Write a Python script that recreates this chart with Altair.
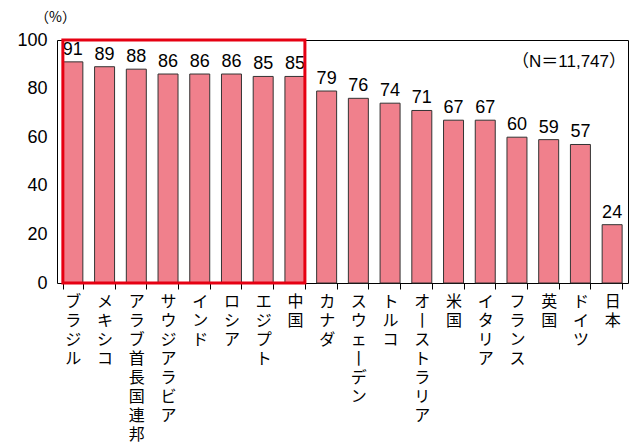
import altair as alt
import pandas as pd

# Share of respondents (%) by country
countries = ["ブラジル", "メキシコ", "アラブ首長国連邦", "サウジアラビア", "インド", "ロシア",
             "エジプト", "中国", "カナダ", "スウェーデン", "トルコ", "オーストラリア",
             "米国", "イタリア", "フランス", "英国", "ドイツ", "日本"]
values = [91, 89, 88, 86, 86, 86, 85, 85, 79, 76, 74, 71, 67, 67, 60, 59, 57, 24]

# Countries grouped inside the red frame
highlight_first = countries[0]
highlight_last = countries[7]

df = pd.DataFrame({"country": countries, "value": values})
frame_df = pd.DataFrame({"start": [highlight_first], "end": [highlight_last],
                         "top": [100], "bottom": [0]})
note_df = pd.DataFrame({"note": ["（N＝11,747）"]})

W, H = 571, 243
NUM_FONT = "Liberation Sans, Noto Sans CJK JP"
JP_FONT = "Noto Sans CJK JP"

x_scale = alt.Scale(domain=countries, paddingInner=0.37, paddingOuter=0.185)
y_scale = alt.Scale(domain=[0, 100], nice=False)

# vertical (tategaki) labels: one character per line, long-vowel mark drawn upright
x_axis = alt.Axis(
    title=None, domain=False, grid=False, ticks=True, tickBand="extent",
    tickSize=6, tickColor="black", labelAngle=0, labelBaseline="top",
    labelAlign="center", labelFont=JP_FONT, labelFontSize=16,
    labelLineHeight=19, labelPadding=4, labelColor="black",
    labelLimit=400, labelOverlap=False,
    labelExpr="split(replace(datum.label, regexp('\u30fc', 'g'), '\u4e28'), '')",
)
y_axis = alt.Axis(
    title="（%）", titleAngle=0, titleFont=JP_FONT, titleFontSize=14,
    titleFontWeight="normal", titleX=-2, titleY=-16, titleAlign="center",
    titleColor="black", domain=False, grid=False, ticks=False,
    values=[0, 20, 40, 60, 80, 100], labelFont=NUM_FONT, labelFontSize=18,
    labelPadding=10, labelColor="black",
)

bars = alt.Chart(df).mark_bar(color="#F0808C", stroke="#333333", strokeWidth=1).encode(
    x=alt.X("country:N", scale=x_scale, axis=x_axis),
    y=alt.Y("value:Q", scale=y_scale, axis=y_axis),
)

labels = alt.Chart(df).mark_text(
    baseline="bottom", dy=-3, font=NUM_FONT, fontSize=18, color="black"
).encode(
    x=alt.X("country:N"),
    y=alt.Y("value:Q"),
    text=alt.Text("value:Q"),
)

frame = alt.Chart(frame_df).mark_rect(
    fill=None, fillOpacity=0, stroke="#E60012", strokeWidth=3
).encode(
    x=alt.X("start:N", bandPosition=0),
    x2=alt.X2("end:N", bandPosition=1),
    y=alt.Y("top:Q"),
    y2=alt.Y2("bottom:Q"),
)

note = alt.Chart(note_df).mark_text(
    align="right", baseline="middle", font=NUM_FONT, fontSize=17, color="black"
).encode(
    x=alt.value(W - 2),
    y=alt.value(22),
    text="note:N",
)

chart = alt.layer(bars, labels, frame, note).properties(
    width=W, height=H,
    autosize=alt.AutoSizeParams(type="none"),
    padding={"left": 57, "top": 40, "right": 10, "bottom": 159},
    background="white",
).configure_view(stroke="black", strokeWidth=1)

chart.save("out.html", embed_options={"renderer": "svg", "actions": False})
